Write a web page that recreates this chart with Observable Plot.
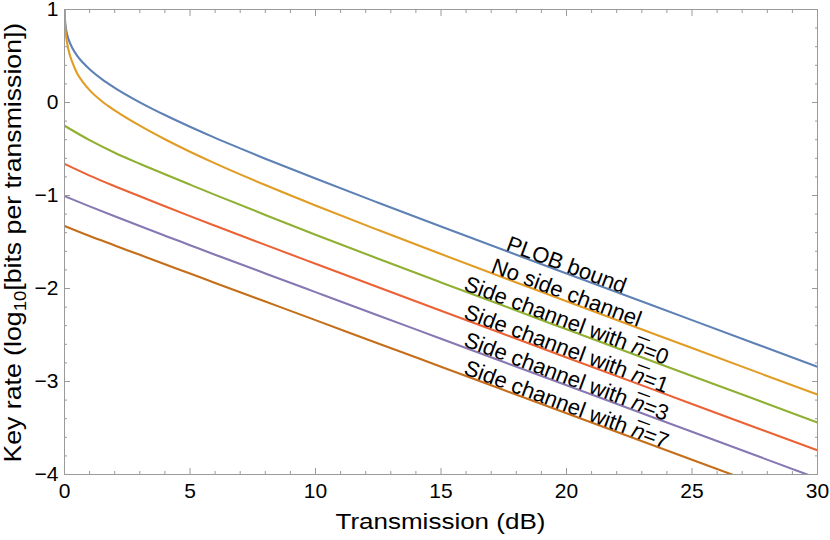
<!DOCTYPE html>
<html>
<head>
<meta charset="utf-8">
<script src="https://cdn.jsdelivr.net/npm/d3@7"></script>
<script src="https://cdn.jsdelivr.net/npm/@observablehq/plot@0.6"></script>
<style>
  body { margin: 0; background: #fff; }
  #chart { width: 830px; height: 540px; }
</style>
</head>
<body>
<div id="chart"></div>
<script>
// ---- tick values ----
const xMajorTicks = [0, 5, 10, 15, 20, 25, 30];
const xMinorTicks = [1, 2, 3, 4, 6, 7, 8, 9, 11, 12, 13, 14, 16, 17, 18, 19, 21, 22, 23, 24, 26, 27, 28, 29];
const yMajorTicks = [-4, -3, -2, -1, 0, 1];
const yMinorTicks = [-3.8, -3.6, -3.4, -3.2, -2.8, -2.6, -2.4, -2.2, -1.8, -1.6, -1.4, -1.2,
                     -0.8, -0.6, -0.4, -0.2, 0.2, 0.4, 0.6, 0.8];

// ---- series (transmission loss in dB, key rate as log10 bits per transmission) ----
const seriesNames = [
  "PLOB bound",
  "No side channel",
  "Side channel with n\u0305=0",
  "Side channel with n\u0305=1",
  "Side channel with n\u0305=3",
  "Side channel with n\u0305=7"
];
const seriesColors = ["#5E81B5", "#E19C24", "#8FB032", "#EB6235", "#8778B3", "#C56E1A"];

const plobDb   = [0.003, 0.005, 0.01, 0.02, 0.05, 0.1, 0.2, 0.3, 0.5, 0.75, 1, 1.5, 2, 3, 4, 5, 6, 7, 8, 10, 12.5, 15, 20, 25, 30];
const plobRate = [1.02, 0.990, 0.943, 0.890, 0.809, 0.737, 0.651, 0.592, 0.505, 0.424, 0.358, 0.249, 0.158, 0.002, -0.135, -0.261, -0.380, -0.493, -0.604, -0.818, -1.078, -1.334, -1.839, -2.340, -2.841];

const noSideDb   = [0.003, 0.005, 0.01, 0.02, 0.05, 0.1, 0.2, 0.3, 0.5, 0.75, 1, 1.5, 2, 3, 4, 5, 6, 8, 10, 12.5, 15, 20, 25, 30];
const noSideRate = [1.01, 0.975, 0.923, 0.860, 0.749, 0.647, 0.521, 0.442, 0.315, 0.214, 0.133, 0.011, -0.084, -0.249, -0.395, -0.529, -0.655, -0.888, -1.108, -1.372, -1.630, -2.138, -2.640, -3.141];

const sideDb = [0, 1, 2, 3, 4, 5, 6, 8, 10, 12.5, 15, 20, 25, 30];
const side0Rate = [-0.250, -0.405, -0.540, -0.659, -0.772, -0.883, -0.993, -1.209, -1.421, -1.680, -1.935, -2.439, -2.940, -3.441];
const side1Rate = [-0.660, -0.786, -0.900, -1.009, -1.116, -1.222, -1.326, -1.531, -1.734, -1.987, -2.239, -2.741, -3.241, -3.741];
const side3Rate = [-1.007, -1.117, -1.224, -1.329, -1.432, -1.534, -1.636, -1.838, -2.039, -2.290, -2.540, -3.041, -3.541, -4.041];
const side7Rate = [-1.328, -1.436, -1.537, -1.638, -1.739, -1.839, -1.940, -2.140, -2.340, -2.591, -2.841, -3.341, -3.841, -4.341];

const seriesX = [plobDb, noSideDb, sideDb, sideDb, sideDb, sideDb];
const seriesY = [plobRate, noSideRate, side0Rate, side1Rate, side3Rate, side7Rate];
const labelAtDb = 20;

// ---- build tables ----
const rows = seriesNames.flatMap((name, i) =>
  seriesX[i].map((x, j) => ({series: name, db: x, rate: seriesY[i][j]})));
const labelRows = seriesNames.map((name, i) => {
  const j = seriesX[i].indexOf(labelAtDb);
  return {series: name, db: seriesX[i][j], rate: seriesY[i][j]};
});

const gray = "#9a9a9a";
const W = 830, H = 540, mL = 64, mR = 13, mT = 9, mB = 66;
const font = "'Liberation Sans', Arial, Helvetica, sans-serif";
const fmt = d => (d < 0 ? "\u2212" + (-d) : String(d));
const blank = () => "";

const chart = Plot.plot({
  width: W, height: H,
  marginLeft: mL, marginRight: mR, marginTop: mT, marginBottom: mB,
  style: {fontFamily: font, background: "white", color: "black"},
  x: {domain: [0, 30]},
  y: {domain: [-4, 1]},
  color: {domain: seriesNames, range: seriesColors},
  marks: [
    Plot.line(rows, {x: "db", y: "rate", z: "series", stroke: "series", strokeWidth: 2.1, curve: "monotone-x", clip: true}),
    Plot.frame({stroke: gray, strokeWidth: 1}),
    // inward ticks, all four sides
    Plot.axisX({anchor: "bottom", ticks: xMinorTicks, tickSize: 3, dy: -3, tickFormat: blank, label: null, stroke: gray}),
    Plot.axisX({anchor: "bottom", ticks: xMajorTicks, tickSize: 6, dy: -6, tickFormat: blank, label: null, stroke: gray}),
    Plot.axisX({anchor: "top", ticks: xMinorTicks, tickSize: 3, dy: 3, tickFormat: blank, label: null, stroke: gray}),
    Plot.axisX({anchor: "top", ticks: xMajorTicks, tickSize: 6, dy: 6, tickFormat: blank, label: null, stroke: gray}),
    Plot.axisY({anchor: "left", ticks: yMinorTicks, tickSize: 3, dx: 3, tickFormat: blank, label: null, stroke: gray}),
    Plot.axisY({anchor: "left", ticks: yMajorTicks, tickSize: 6, dx: 6, tickFormat: blank, label: null, stroke: gray}),
    Plot.axisY({anchor: "right", ticks: yMinorTicks, tickSize: 3, dx: -3, tickFormat: blank, label: null, stroke: gray}),
    Plot.axisY({anchor: "right", ticks: yMajorTicks, tickSize: 6, dx: -6, tickFormat: blank, label: null, stroke: gray}),
    // tick labels
    Plot.axisX({anchor: "bottom", ticks: xMajorTicks, tickSize: 0, tickPadding: 9, fontSize: 21, tickFormat: fmt, label: null, fill: "black"}),
    Plot.axisY({anchor: "left", ticks: yMajorTicks, tickSize: 0, tickPadding: 6, fontSize: 21, tickFormat: fmt, label: null, fill: "black"}),
    // curve labels
    Plot.text(labelRows, {x: "db", y: "rate", text: "series", rotate: 20.4, fontSize: 22,
      textAnchor: "middle", lineAnchor: "middle", dy: -8.5, fill: "black"})
  ]
});

document.getElementById("chart").appendChild(chart);

const svg = d3.select(chart);

// italic n with overbar in curve labels
svg.selectAll("text").each(function() {
  const t = this.textContent;
  const k = t.indexOf("n\u0305");
  if (k < 0) return;
  const el = d3.select(this);
  el.text("");
  el.append("tspan").text(t.slice(0, k));
  el.append("tspan").attr("font-style", "italic").text("n\u0305");
  el.append("tspan").text(t.slice(k + 2));
});

// axis title helper: pieces laid out left to right, centred, stretched to a length
function axisTitle(parts, length, transform) {
  const g = svg.append("g").attr("font-family", font).attr("fill", "black")
    .attr("text-anchor", "start");
  let pos = 0;
  const els = parts.map(p => {
    const e = g.append("text").attr("text-anchor", "start").attr("font-size", p.size)
      .attr("x", pos).attr("y", p.shift || 0).text(p.text);
    pos += e.node().getComputedTextLength();
    return e;
  });
  els.forEach(e => e.attr("x", +e.attr("x") - pos / 2));
  const s = length / pos;
  g.attr("transform", `${transform} scale(${s},1)`);
  return g;
}

const cx = (mL + W - mR) / 2;
axisTitle([{text: "Transmission (dB)", size: 23}], 210, `translate(${cx},529)`);

const cy = (mT + H - mB) / 2 + 1;
axisTitle([
  {text: "Key rate (log", size: 23},
  {text: "10", size: 16, shift: 5},
  {text: "[bits per transmission])", size: 23}
], 440, `translate(20.5,${cy}) rotate(-90)`);
</script>
</body>
</html>
